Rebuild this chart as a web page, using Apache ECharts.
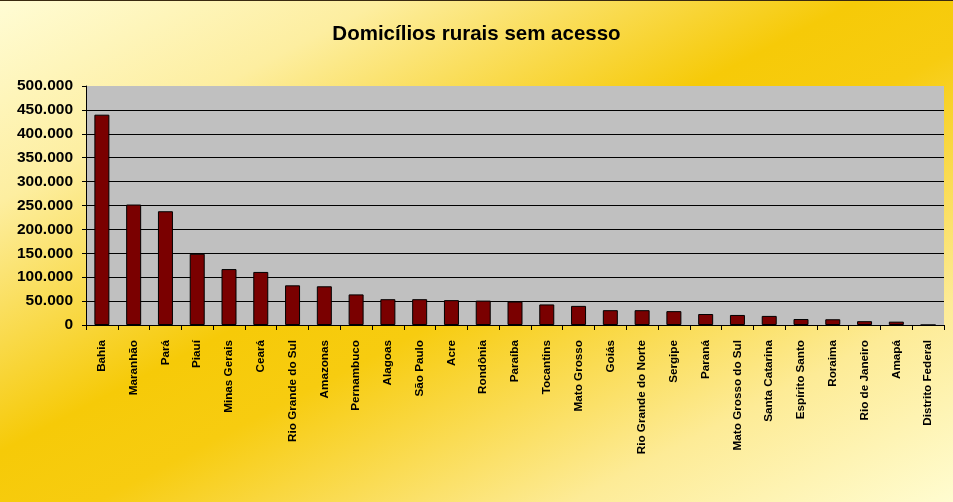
<!DOCTYPE html>
<html>
<head>
<meta charset="utf-8">
<script src="https://cdn.jsdelivr.net/npm/echarts@6/dist/echarts.min.js"></script>
<style>
html,body{margin:0;padding:0;}
#chart{width:953px;height:502px;box-sizing:border-box;border-top:1px solid #3a2a10;
background:linear-gradient(to bottom right,#fffcd4 0%,#fdeea0 20%,#f6ca08 45%,#f7cc10 55%,#fdeb96 80%,#fffcd0 100%);}
</style>
</head>
<body>
<div id="chart"></div>
<script>
const titleText = 'Domicílios rurais sem acesso';
const categories = ['Bahia','Maranhão','Pará','Piauí','Minas Gerais','Ceará','Rio Grande do Sul','Amazonas','Pernambuco','Alagoas','São Paulo','Acre','Rondônia','Paraíba','Tocantins','Mato Grosso','Goiás','Rio Grande do Norte','Sergipe','Paraná','Mato Grosso do Sul','Santa Catarina','Espírito Santo','Roraima','Rio de Janeiro','Amapá','Distrito Federal'];
const values = [440000,252000,238000,149000,117000,111000,83000,81000,64000,54000,54000,52000,51000,49000,43000,40000,31000,31000,29000,23000,21000,19000,12500,12000,8000,7000,0];
const yMin = 0, yMax = 500000, yStep = 50000;

function fmt(v){return String(v).replace(/\B(?=(\d{3})+(?!\d))/g,'.');}

const chart = echarts.init(document.getElementById('chart'));
chart.setOption({
  backgroundColor:'transparent',
  animation:false,
  title:{text:titleText,left:'center',top:18,textStyle:{fontFamily:'Liberation Sans, Arial',fontWeight:'bold',fontSize:20.5,color:'#000'}},
  grid:{left:86,right:9,top:85,bottom:177,show:true,backgroundColor:'#c0c0c0',borderWidth:0},
  xAxis:{type:'category',data:categories,boundaryGap:true,
    axisLine:{lineStyle:{color:'#000',width:1}},
    axisTick:{show:true,length:5,lineStyle:{color:'#000'}},
    axisLabel:{rotate:90,interval:0,margin:15,fontFamily:'Liberation Sans, Arial',fontWeight:'bold',fontSize:11.7,color:'#000'}},
  yAxis:{type:'value',min:yMin,max:yMax,interval:yStep,
    axisLine:{show:true,lineStyle:{color:'#000'}},
    axisTick:{show:true,length:4,lineStyle:{color:'#000'}},
    splitLine:{show:true,showMaxLine:false,lineStyle:{color:'#000',width:1}},
    axisLabel:{formatter:fmt,margin:13,fontFamily:'Liberation Sans, Arial',fontWeight:'bold',fontSize:15.5,color:'#000'}},
  series:[{type:'bar',data:values,barWidth:15,
    itemStyle:{color:'#7a0000',borderColor:'#000',borderWidth:1}}]
});
</script>
</body>
</html>
